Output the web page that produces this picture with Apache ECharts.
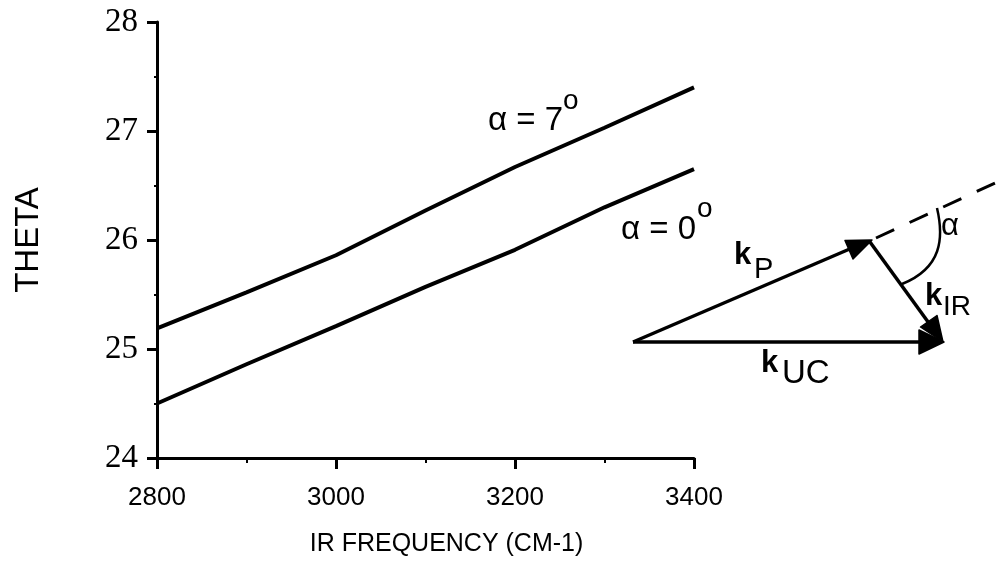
<!DOCTYPE html>
<html>
<head>
<meta charset="utf-8">
<script src="https://cdn.jsdelivr.net/npm/echarts@6/dist/echarts.min.js"></script>
<style>
  html, body { margin: 0; padding: 0; background: #ffffff; }
  #chart { width: 1006px; height: 562px; }
</style>
</head>
<body>
<div id="chart"></div>
<script>
// IR frequency (cm-1) and phase-matching angle THETA for two alpha values
const frequency = [2800, 2900, 3000, 3100, 3200, 3300, 3400];
const thetaAlpha7 = [25.19, 25.52, 25.86, 26.27, 26.67, 27.03, 27.40];
const thetaAlpha0 = [24.50, 24.86, 25.21, 25.57, 25.91, 26.30, 26.65];

// axis ranges
const xRange = [2800, 3400];
const xStep = 200;
const yRange = [24, 28];
const yStep = 1;

const SANS = '"Liberation Sans", Arial, Helvetica, sans-serif';
const SERIF = '"Liberation Serif", "Times New Roman", serif';
const INK = '#000000';

function pairs(ys) {
  return frequency.map((f, i) => [f, ys[i]]);
}

function txt(text, x, y, size, opts) {
  opts = opts || {};
  return {
    type: 'text',
    x: x,
    y: y,
    silent: true,
    style: {
      text: text,
      fill: INK,
      fontSize: size,
      fontFamily: opts.family || SANS,
      fontWeight: opts.weight || 'normal',
      align: 'left',
      verticalAlign: 'middle',
      textAlign: 'left',
      textVerticalAlign: 'middle'
    }
  };
}

function seg(x1, y1, x2, y2, w, dash) {
  return {
    type: 'line',
    silent: true,
    shape: { x1: x1, y1: y1, x2: x2, y2: y2 },
    style: { stroke: INK, lineWidth: w, lineDash: dash || null, lineCap: 'butt' }
  };
}

function head(points) {
  return {
    type: 'polygon',
    silent: true,
    shape: { points: points },
    style: { fill: INK, stroke: INK, lineWidth: 1.5, lineJoin: 'round' }
  };
}

const chart = echarts.init(document.getElementById('chart'), null, { renderer: 'canvas' });

chart.setOption({
  animation: false,
  backgroundColor: '#ffffff',
  grid: {
    left: 157,
    top: 22,
    right: 312,
    bottom: 104,
    outerBoundsMode: 'none',
    containLabel: false
  },
  xAxis: {
    type: 'value',
    min: xRange[0],
    max: xRange[1],
    interval: xStep,
    name: 'IR FREQUENCY (CM-1)',
    nameLocation: 'middle',
    nameGap: 74,
    nameTextStyle: {
      color: INK, fontSize: 25, fontFamily: SANS,
      padding: [0, 0, 0, 42]
    },
    axisLine: { show: true, lineStyle: { color: INK, width: 3 } },
    axisTick: { show: true, inside: false, length: 11, lineStyle: { color: INK, width: 3 } },
    minorTick: { show: true, splitNumber: 2, length: 5, lineStyle: { color: INK, width: 2 } },
    axisLabel: {
      color: INK, fontSize: 26, fontFamily: SANS, margin: 27,
      formatter: (v) => String(v)
    },
    splitLine: { show: false },
    minorSplitLine: { show: false }
  },
  yAxis: {
    type: 'value',
    min: yRange[0],
    max: yRange[1],
    interval: yStep,
    name: 'THETA',
    nameLocation: 'middle',
    nameRotate: 90,
    nameGap: 112,
    nameTextStyle: { color: INK, fontSize: 33, fontFamily: SANS },
    axisLine: { show: true, lineStyle: { color: INK, width: 3 } },
    axisTick: { show: true, inside: false, length: 10, lineStyle: { color: INK, width: 3 } },
    minorTick: { show: true, splitNumber: 2, length: 3, lineStyle: { color: INK, width: 2 } },
    axisLabel: {
      color: INK, fontSize: 33, fontFamily: SERIF, margin: 19,
      formatter: (v) => String(v)
    },
    splitLine: { show: false },
    minorSplitLine: { show: false }
  },
  series: [
    {
      name: 'alpha = 7',
      type: 'line',
      data: pairs(thetaAlpha7),
      symbol: 'none',
      smooth: false,
      lineStyle: { color: INK, width: 4 }
    },
    {
      name: 'alpha = 0',
      type: 'line',
      data: pairs(thetaAlpha0),
      symbol: 'none',
      smooth: false,
      lineStyle: { color: INK, width: 4 }
    }
  ],
  graphic: {
    elements: [
      // curve labels
      txt('α = 7', 488, 121, 33),
      txt('o', 563, 101, 28),
      txt('α = 0', 621, 230, 33),
      txt('o', 697, 209, 28),

      // wave-vector triangle
      seg(633, 342, 922, 342, 3.5),
      head([[944, 342], [919, 330], [919, 354]]),
      seg(633, 342, 852, 248, 3.5),
      head([[872, 240], [853, 259], [845, 240.5]]),
      seg(870, 242, 931, 326, 3.5),
      head([[943, 342], [937, 315.5], [920.5, 327]]),
      // extension of k_P and the angle alpha
      seg(876, 238, 1006, 178, 3, [20, 17]),
      {
        type: 'bezierCurve',
        silent: true,
        shape: { x1: 937, y1: 208, cpx1: 944, cpy1: 238, cpx2: 942, cpy2: 268, x2: 902, y2: 284 },
        style: { stroke: INK, lineWidth: 2.5, fill: null }
      },
      txt('α', 941, 226, 31),

      // vector labels
      txt('k', 734, 255, 31, { weight: 'bold' }),
      txt('P', 754, 270, 29),
      txt('k', 925, 296, 31, { weight: 'bold' }),
      txt('IR', 943, 307, 28),
      txt('k', 761, 363, 31, { weight: 'bold' }),
      txt('UC', 782, 374, 33)
    ]
  }
});
</script>
</body>
</html>
